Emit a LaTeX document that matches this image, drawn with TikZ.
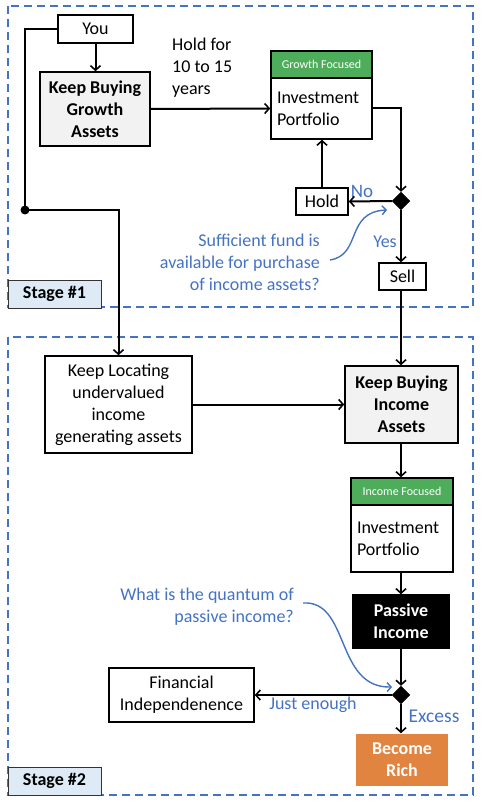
\documentclass[tikz,border=0pt]{standalone}
\usepackage{fontspec}
\setmainfont{Carlito}
\usetikzlibrary{arrows.meta,shapes.geometric}
\definecolor{accblue}{HTML}{4472C4}
\definecolor{grn}{HTML}{4EAD5B}
\definecolor{org}{HTML}{E0843F}
\definecolor{lgray}{HTML}{F2F2F2}
\definecolor{stagefill}{HTML}{DEEBF7}
\begin{document}
\begin{tikzpicture}[x=1pt,y=-1pt,
  every node/.style={inner sep=0pt,font=\fontsize{18}{22}\selectfont},
  box/.style={draw=black,line width=1.5pt,fill=white,align=center},
  bbox/.style={box,font=\bfseries\fontsize{18}{22}\selectfont},
  hdr/.style={draw=black,line width=1.5pt,fill=grn,text=white,font=\fontsize{12}{14}\selectfont},
  conn/.style={line width=2pt,-{Straight Barb[length=4.5pt,width=10pt,line width=1.6pt]}},
  plain/.style={line width=2pt},
  anno/.style={text=accblue,align=right},
  annoarrow/.style={accblue,line width=1.4pt,-{Straight Barb[length=4pt,width=9pt]}},
  stagebox/.style={draw=accblue,line width=2pt,dash pattern=on 8pt off 5pt},
  stagelbl/.style={draw=black!80,line width=1pt,fill=stagefill,font=\bfseries\fontsize{18}{20}\selectfont},
  dia/.style={diamond,fill=black,draw=black,minimum width=18pt,minimum height=18pt}
]
\useasboundingbox (0,0) rectangle (482,802);
% stage frames
\draw[stagebox] (8,6) rectangle (473,307);
\draw[stagebox] (8,337) rectangle (473,795);
\node[stagelbl,minimum width=93pt,minimum height=28pt] (s1) at (54.5,294) {Stage \#1};
\node[stagelbl,minimum width=93pt,minimum height=28pt] (s2) at (54.5,781) {Stage \#2};

% nodes
\node[box,minimum width=75pt,minimum height=28pt] (you) at (95.5,29) {You};
\node[bbox,fill=lgray,minimum width=110pt,minimum height=74pt] (kbg) at (95,109) {Keep Buying\\Growth\\Assets};
\node[align=left,anchor=west] (hold4) at (172,68) {Hold for\\10 to 15\\years};
\node[hdr,minimum width=101pt,minimum height=27pt] (gh) at (321.5,64.5) {Growth Focused};
\node[box,minimum width=101pt,minimum height=61pt,align=left,text width=89pt] (gp) at (321.5,108.5) {Investment\\Portfolio};
\node[dia] (d1) at (401,201) {};
\node[box,minimum width=52pt,minimum height=27pt] (hold) at (322,201.5) {Hold};
\node[box,minimum width=47pt,minimum height=27pt] (sell) at (402.5,276.5) {Sell};
\node[anno,anchor=east] (q1) at (320,262) {Sufficient fund is\\available for purchase\\of income assets?};
\node[text=accblue,font=\fontsize{19}{22}\selectfont] (no) at (362,191) {No};
\node[text=accblue] (yes) at (385,242) {Yes};

\node[box,minimum width=147pt,minimum height=97pt] (kl) at (118.5,404.5) {Keep Locating\\undervalued\\income\\generating assets};
\node[bbox,fill=lgray,minimum width=113pt,minimum height=77pt] (kbi) at (401.5,404.5) {Keep Buying\\Income\\Assets};
\node[hdr,minimum width=102pt,minimum height=27pt] (ih) at (402,491.5) {Income Focused};
\node[box,minimum width=102pt,minimum height=67pt,align=left,text width=90pt] (ip) at (402,538.5) {Investment\\Portfolio};
\node[bbox,fill=black,text=white,minimum width=96pt,minimum height=53pt] (pi) at (401,621.5) {Passive\\Income};
\node[dia] (d2) at (401,695) {};
\node[box,minimum width=145pt,minimum height=54pt] (fi) at (181.5,695) {Financial\\Independenence};
\node[bbox,draw=none,fill=org,text=white,minimum width=92pt,minimum height=52pt] (br) at (402,760) {Become\\Rich};
\node[anno,anchor=east] (q2) at (294,606.5) {What is the quantum of\\passive income?};
\node[text=accblue] (je) at (313,705) {Just enough};
\node[text=accblue,font=\fontsize{19.5}{22}\selectfont] (ex) at (434,716) {Excess};

\coordinate (dot) at (25,210);
\fill (dot) circle (4.5pt);

% connectors
\draw[plain] (you.west) -| (dot);
\draw[conn] (dot) -| (kl.north);
\draw[conn] (you.south) -- (kbg.north -| you.south);
\draw[conn] (kbg.east) -- (gp.west);
\draw[conn] (gp.east) -| (d1.north);
\draw[conn] (d1.west) -- (hold.east);
\draw[conn] (hold.north) -- (hold.north |- gp.south);
\draw[conn] (d1.south) -- (d1.south |- sell.north);
\draw[conn] (sell.south -| d1) -- (kbi.north -| d1);
\draw[conn] (kl.east) -- (kl.east -| kbi.west);
\draw[conn] (kbi.south -| d1) -- (ih.north -| d1);
\draw[conn] (ip.south -| d1) -- (pi.north -| d1);
\draw[conn] (pi.south -| d2) -- (d2.north);
\draw[conn] (d2.west) -- (fi.east);
\draw[conn] (d2.south) -- (br.north -| d2);

% annotation arrows
\draw[annoarrow] (330,260) .. controls (362,255) and (345,212) .. (387,210);
\draw[annoarrow] (303,603) .. controls (350,600) and (335,688) .. (392,687);
\end{tikzpicture}
\end{document}
